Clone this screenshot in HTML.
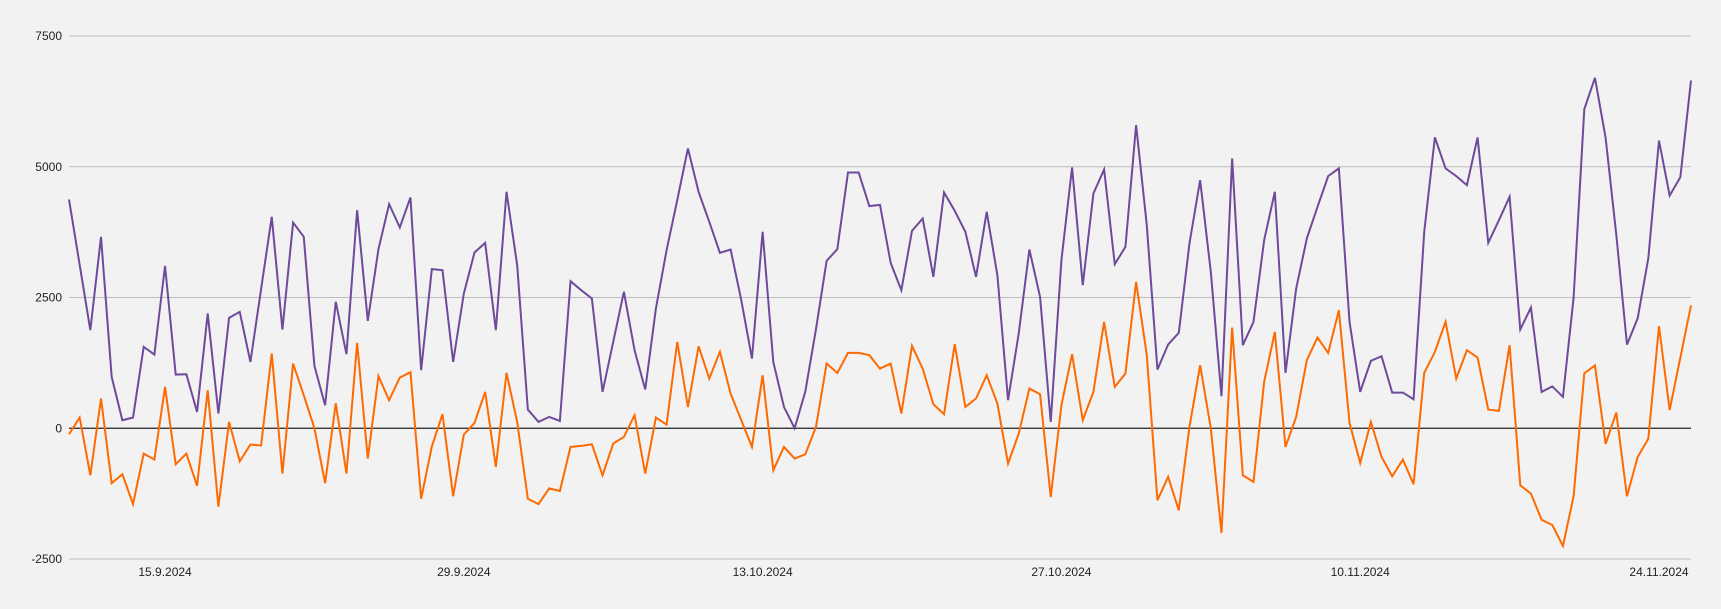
<!DOCTYPE html>
<html><head><meta charset="utf-8">
<style>
html,body{margin:0;padding:0;background:#f2f2f2;}
svg{display:block;font-family:"Liberation Sans",sans-serif;}
</style></head>
<body>
<svg id="chart" width="1721" height="609" viewBox="0 0 1721 609" xmlns="http://www.w3.org/2000/svg">
<rect x="0" y="0" width="1721" height="609" fill="#f2f2f2"/>
<g id="grid"></g>
<g id="yaxis"></g>
<g id="xaxis"></g>
<g id="series"></g>
</svg>
<script>
const purpleValues = [4374,3125,1875,3660,982,153,204,1556,1409,3106,1027,1033,312,2194,281,2111,2225,1269,2659,4043,1888,3934,3660,1192,440,2417,1416,4170,2053,3424,4285,3839,4413,1110,3042,
3023,1269,2576,3361,3545,1875,4521,3118,357,121,217,140,2812,2640,2481,695,1651,2608,1492,740,2289,3405,4362,5350,4521,3947,3354,3418,2449,1333,3756,1269,408,0,700,
1894,3201,3424,4891,4891,4247,4272,3163,2640,3775,4011,2895,4508,4158,3756,2895,4139,2927,536,1811,3418,2512,121,3214,4987,2736,4489,4949,3137,3469,5797,3883,1122,1601,
1824,3533,4744,2990,612,5159,1588,2034,3596,4521,1058,2672,3629,4234,4821,4968,2034,695,1288,1377,682,682,555,3756,5561,4968,4821,4649,5561,3545,3979,4425,1888,2308,695,
800,600,2500,6100,6700,5550,3700,1600,2100,3250,5500,4450,4800,6650];
const orangeValues = [-115,204,-899,568,-1050,-880,-1450,-485,-599,790,-689,-485,-1100,727,-1500,121,-631,-312,-331,1429,-867,1237,631,0,-1050,478,-867,1632,-580,995,536,969,1071,-1350,-350,
268,-1300,-121,102,695,-740,1058,121,-1350,-1450,-1150,-1200,-357,-338,-306,-899,-293,-166,249,-867,204,70,1651,408,1569,950,1460,663,153,-357,1014,-803,-357,-580,-497,
25,1237,1058,1441,1441,1397,1141,1237,281,1575,1141,459,268,1607,408,568,1014,472,-676,-102,759,650,-1314,440,1416,153,695,2034,791,1046,2799,1397,-1377,-931,
-1569,25,1205,0,-2000,1926,-899,-1027,886,1843,-357,217,1301,1735,1441,2257,102,-663,121,-548,-918,-599,-1071,1058,1460,2034,950,1492,1352,357,331,1588,-1090,-1250,-1750,
-1850,-2250,-1300,1050,1200,-300,300,-1300,-550,-200,1950,350,1350,2350];
const yTicks = [-2500,0,2500,5000,7500];
const xTickLabels = ["15.9.2024","29.9.2024","13.10.2024","27.10.2024","10.11.2024","24.11.2024"];
const xTickIndex = [9,37,65,93,121,149];

const NS="http://www.w3.org/2000/svg";
const left=69,right=1691,yTop=36,yBot=559,vMin=-2500,vMax=7500;
const n=purpleValues.length;
function xScale(i){return left+(right-left)*i/(n-1);}
function yScale(v){return yBot-(v-vMin)/(vMax-vMin)*(yBot-yTop);}
function mk(tag,attrs,parent){const e=document.createElementNS(NS,tag);for(const k in attrs)e.setAttribute(k,attrs[k]);parent.appendChild(e);return e;}

const grid=document.getElementById('grid'),yax=document.getElementById('yaxis'),xax=document.getElementById('xaxis'),ser=document.getElementById('series');
yTicks.forEach(t=>{
  const y=yScale(t);
  const ln=mk('line',{x1:left,x2:right,y1:y,y2:y,stroke:t===0?'#222':'#bdbdbd','stroke-width':t===0?1.3:1},grid);
  
  
  const tx=mk('text',{x:62,y:y+4,'text-anchor':'end','font-size':12,fill:'#222'},yax);
  tx.textContent=String(t);
  
  
});
xTickLabels.forEach((lab,k)=>{
  const tx=mk('text',{x:xScale(xTickIndex[k]),y:576,'text-anchor':'middle','font-size':12,fill:'#222'},xax);
  tx.textContent=lab;
  
  
});
function drawLine(vals,color,name){
  const d=vals.map((v,i)=>(i?'L':'M')+xScale(i).toFixed(2)+' '+yScale(v).toFixed(2)).join(' ');
  const p=mk('path',{d:d,fill:'none',stroke:color,'stroke-width':2,'stroke-linejoin':'miter'},ser);
  
  
}
drawLine(purpleValues,'#6f4a9b','purple-series-line');
drawLine(orangeValues,'#ff6a00','orange-series-line');
</script>
</body></html>
